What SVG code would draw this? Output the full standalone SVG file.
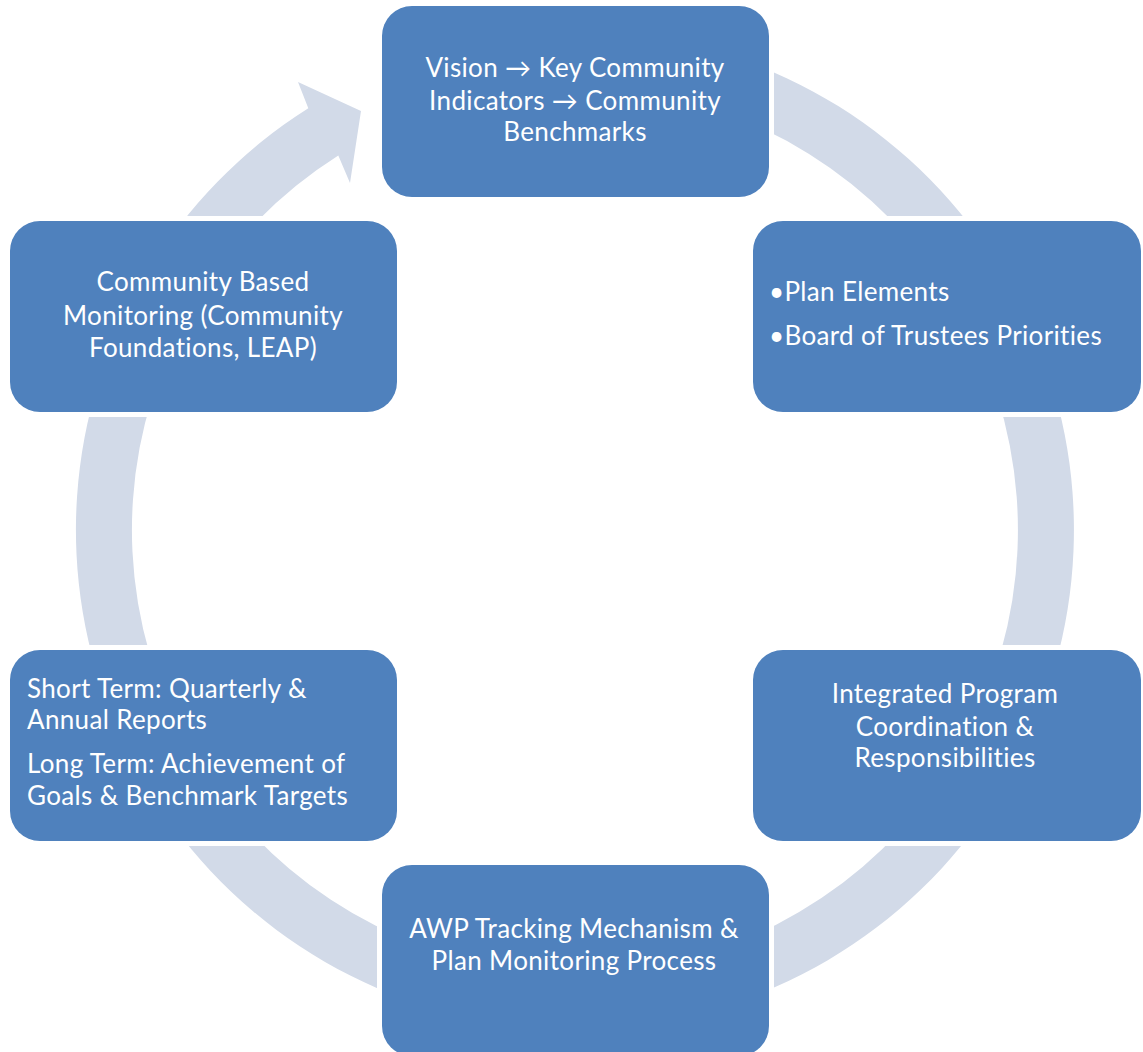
<svg xmlns="http://www.w3.org/2000/svg" width="1143" height="1052" viewBox="0 0 1143 1052">
  <style>
    .ring { fill: #D2DAE8; }
    .box { fill: #4F81BD; stroke: #FFFFFF; stroke-width: 10; paint-order: stroke; }
    .lbl { fill: #FFFFFF; font-family: "Lato", "Liberation Sans", sans-serif; font-size: 26px; letter-spacing: 0.35px; }
    .mid { text-anchor: middle; }
  </style>

  <!-- Cycle ring: one wide arc running clockwise, ending in an arrowhead at upper left -->
  <g id="connectors">
    <path class="ring" d="M 618.5 32.9 A 499 499 0 1 1 308.3 108.2 L 298 82 L 361 111 L 350 183 L 338.3 155.5 A 443 443 0 1 0 613.6 88.7 Z"/>
  </g>

  <g id="node-vision">
    <rect class="box" x="382" y="6" width="387" height="191" rx="30"/>
    <text class="lbl mid" x="575" y="77">Vision → Key Community</text>
    <text class="lbl mid" x="575" y="110">Indicators → Community</text>
    <text class="lbl mid" x="575" y="141">Benchmarks</text>
  </g>

  <g id="node-plan">
    <rect class="box" x="753" y="221" width="388" height="191" rx="30"/>
    <text class="lbl" x="769" y="301">•Plan Elements</text>
    <text class="lbl" x="769" y="345">•Board of Trustees Priorities</text>
  </g>

  <g id="node-coordination">
    <rect class="box" x="753" y="650" width="388" height="191" rx="30"/>
    <text class="lbl mid" x="945" y="703">Integrated Program</text>
    <text class="lbl mid" x="945" y="736">Coordination &amp;</text>
    <text class="lbl mid" x="945" y="767">Responsibilities</text>
  </g>

  <g id="node-tracking">
    <rect class="box" x="382" y="865" width="387" height="191" rx="30"/>
    <text class="lbl mid" x="574" y="938">AWP Tracking Mechanism &amp;</text>
    <text class="lbl mid" x="574" y="970">Plan Monitoring Process</text>
  </g>

  <g id="node-reports">
    <rect class="box" x="10" y="650" width="387" height="191" rx="30"/>
    <text class="lbl" x="27" y="698">Short Term: Quarterly &amp;</text>
    <text class="lbl" x="27" y="729">Annual Reports</text>
    <text class="lbl" x="27" y="773">Long Term: Achievement of</text>
    <text class="lbl" x="27" y="805">Goals &amp; Benchmark Targets</text>
  </g>

  <g id="node-monitoring">
    <rect class="box" x="10" y="221" width="387" height="191" rx="30"/>
    <text class="lbl mid" x="203" y="291">Community Based</text>
    <text class="lbl mid" x="203" y="325">Monitoring (Community</text>
    <text class="lbl mid" x="203" y="357">Foundations, LEAP)</text>
  </g>
</svg>
